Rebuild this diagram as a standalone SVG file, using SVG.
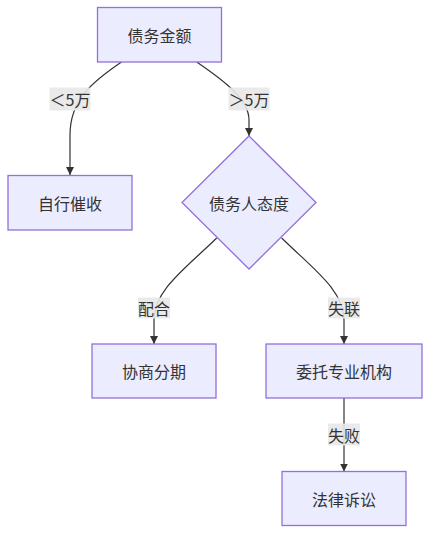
<svg xmlns="http://www.w3.org/2000/svg" width="430" height="534" viewBox="0 0 430 534">
<defs>
<style>
.node rect, .node polygon { fill: #ECECFF; stroke: #9370DB; stroke-width: 1.3; }
.node text, .lbl text { font-family: "Noto Sans CJK SC", "Liberation Sans", sans-serif; font-size: 16px; fill: #333333; text-anchor: middle; dominant-baseline: central; }
.edge { fill: none; stroke: #333333; stroke-width: 1.2; }
.lbl rect { fill: #E8E8E8; fill-opacity: 0.9; }
</style>
<marker id="arr" viewBox="0 0 10 10" refX="10" refY="5" markerWidth="8" markerHeight="8" markerUnits="userSpaceOnUse" orient="auto">
<path d="M0,0 L10,5 L0,10 z" fill="#333333"/>
</marker>
</defs>
<rect width="430" height="534" fill="#ffffff"/>
<g id="connectors">
<path class="edge" d="M121.5,62 C92,82 70,100 70,135 L70,175" marker-end="url(#arr)"/>
<path class="edge" d="M196.7,62 C226,82 249,100 249,120 L249,136" marker-end="url(#arr)"/>
<path class="edge" d="M216.7,238 C186,268 154,290 154,320 L154,344" marker-end="url(#arr)"/>
<path class="edge" d="M281.7,238 C312,268 344,290 344,320 L344,344" marker-end="url(#arr)"/>
<path class="edge" d="M344,398 L344,471.5" marker-end="url(#arr)"/>
<g class="lbl"><rect x="49.5" y="87.5" width="41" height="23"/><text x="70" y="99">＜5万</text></g>
<g class="lbl"><rect x="228.5" y="87.5" width="41" height="23"/><text x="249" y="99">＞5万</text></g>
<g class="lbl"><rect x="138" y="297.5" width="32" height="21"/><text x="154" y="308">配合</text></g>
<g class="lbl"><rect x="328" y="297.5" width="32" height="21"/><text x="344" y="308">失联</text></g>
<g class="lbl"><rect x="328" y="423.5" width="32" height="22"/><text x="344" y="435">失败</text></g>
</g>
<g id="n_amount" class="node"><rect x="97.5" y="7.5" width="124" height="54.5"/><text x="159.5" y="35">债务金额</text></g>
<g id="n_self" class="node"><rect x="8" y="175.5" width="124" height="54.5"/><text x="70" y="203">自行催收</text></g>
<g id="n_attitude" class="node"><polygon points="249,136 316,202.5 249,269 182,202.5"/><text x="249" y="203">债务人态度</text></g>
<g id="n_install" class="node"><rect x="92" y="344" width="124" height="54"/><text x="154" y="371">协商分期</text></g>
<g id="n_agency" class="node"><rect x="266" y="344" width="156" height="54"/><text x="344" y="371">委托专业机构</text></g>
<g id="n_law" class="node"><rect x="282" y="471.5" width="124" height="54"/><text x="344" y="498.5">法律诉讼</text></g>
</svg>
